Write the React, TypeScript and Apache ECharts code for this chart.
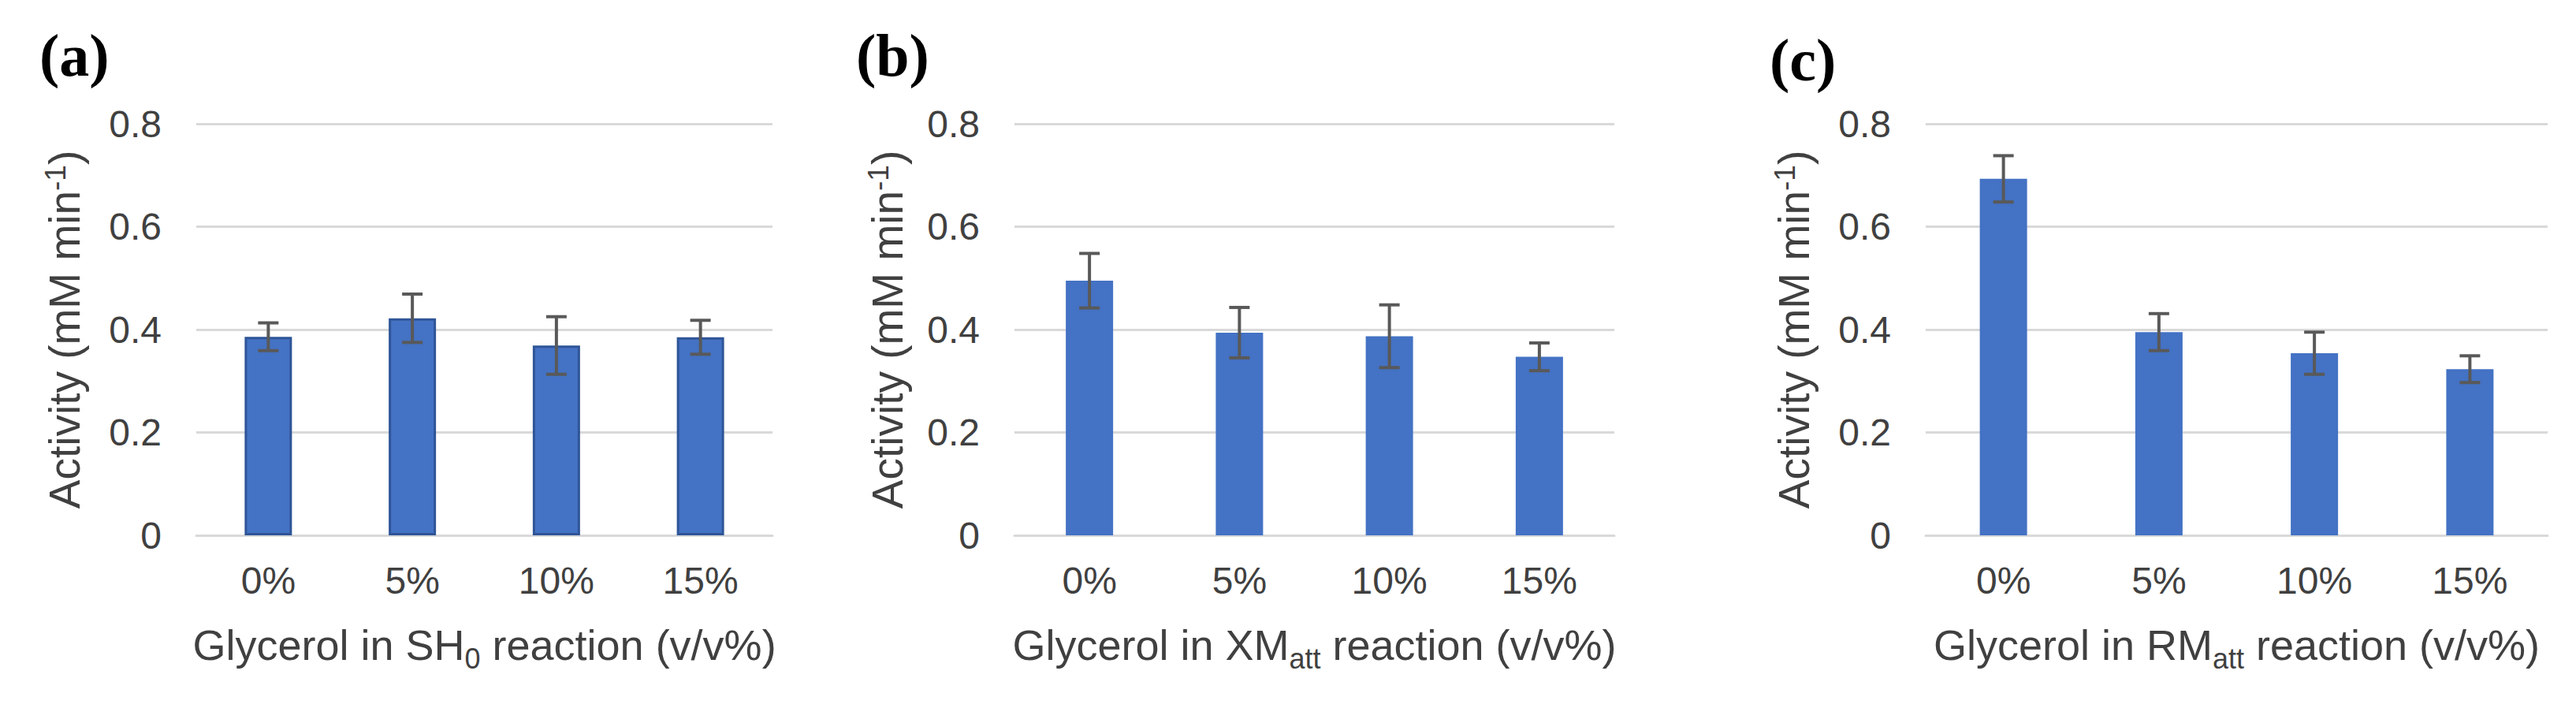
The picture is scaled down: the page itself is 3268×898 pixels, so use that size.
import React, { useEffect, useRef } from "react";
import * as echarts from "echarts";

const categories = ["0%", "5%", "10%", "15%"];
const yTicks = [0, 0.2, 0.4, 0.6, 0.8];

const meansA = [0.386, 0.422, 0.369, 0.385];
const errA = [0.027, 0.047, 0.056, 0.033];
const meansB = [0.495, 0.394, 0.387, 0.347];
const errB = [0.053, 0.049, 0.061, 0.027];
const meansC = [0.693, 0.395, 0.354, 0.323];
const errC = [0.045, 0.036, 0.041, 0.026];

const panelLabels = ["(a)", "(b)", "(c)"];
const xTitles = [
  "Glycerol in SH{sub|0} reaction (v/v%)",
  "Glycerol in XM{sub|att} reaction (v/v%)",
  "Glycerol in RM{sub|att} reaction (v/v%)",
];
const yTitle = "Activity (mM min{sup|-1})";

const FONT = '"Liberation Sans", Arial, sans-serif';
const TEXT = "#404040";
const GRIDC = "#d9d9d9";
const BAR = "#4472c4";

export default function App() {
  const ref = useRef<HTMLDivElement>(null);
  useEffect(() => {
    document.body.style.margin = "0";
    const chart = echarts.init(ref.current!, null, { renderer: "svg" });
    const grids = [
      { left: 249, top: 157, width: 731, height: 522 },
      { left: 1287, top: 157, width: 761, height: 522 },
      { left: 2443, top: 157, width: 789, height: 522 },
    ];
    const yGaps = [138, 132, 138];
    const panels = [
      { means: meansA, err: errA, border: true },
      { means: meansB, err: errB, border: false },
      { means: meansC, err: errC, border: false },
    ];
    const xAxis = grids.map((_, i) => ({
      type: "category",
      gridIndex: i,
      data: categories,
      axisTick: { show: false },
      axisLine: { lineStyle: { color: GRIDC, width: 3 } },
      axisLabel: { fontSize: 48, color: TEXT, fontFamily: FONT, margin: 33 },
      name: xTitles[i],
      nameLocation: "middle",
      nameGap: 104,
      nameTextStyle: {
        fontSize: 54,
        color: TEXT,
        fontFamily: FONT,
        rich: {
          sub: { fontSize: 36, color: TEXT, fontFamily: FONT, padding: [34, 0, 0, 0] },
        },
      },
    }));
    const yAxis = grids.map((_, i) => ({
      type: "value",
      gridIndex: i,
      min: yTicks[0],
      max: yTicks[yTicks.length - 1],
      interval: 0.2,
      axisLine: { show: false },
      axisTick: { show: false },
      splitLine: { lineStyle: { color: GRIDC, width: 3 } },
      axisLabel: {
        fontSize: 48,
        color: TEXT,
        fontFamily: FONT,
        margin: 44,
        formatter: (v: number) => (v === 0 ? "0" : v.toFixed(1)),
      },
      name: yTitle,
      nameLocation: "middle",
      nameGap: yGaps[i],
      nameTextStyle: {
        fontSize: 55,
        color: TEXT,
        fontFamily: FONT,
        rich: {
          sup: { fontSize: 37, color: TEXT, fontFamily: FONT, padding: [0, 0, 22, 0] },
        },
      },
    }));
    const series: any[] = [];
    panels.forEach((p, i) => {
      series.push({
        type: "bar",
        xAxisIndex: i,
        yAxisIndex: i,
        data: p.means,
        barWidth: 60,
        itemStyle: p.border
          ? { color: BAR, borderColor: "#2f5597", borderWidth: 3 }
          : { color: BAR },
      });
      series.push({
        type: "custom",
        xAxisIndex: i,
        yAxisIndex: i,
        z: 5,
        data: p.means.map((m, k) => [k, m - p.err[k], m + p.err[k]]),
        renderItem: (params: any, api: any) => {
          const lo = api.coord([api.value(0), api.value(1)]);
          const hi = api.coord([api.value(0), api.value(2)]);
          const cap = 13;
          const style = { stroke: "#595959", lineWidth: 4 };
          return {
            type: "group",
            children: [
              { type: "line", shape: { x1: lo[0], y1: lo[1], x2: hi[0], y2: hi[1] }, style },
              { type: "line", shape: { x1: hi[0] - cap, y1: hi[1], x2: hi[0] + cap, y2: hi[1] }, style },
              { type: "line", shape: { x1: lo[0] - cap, y1: lo[1], x2: lo[0] + cap, y2: lo[1] }, style },
            ],
          };
        },
      });
    });
    const labelX = [50, 1086, 2245];
    const labelY = [32, 32, 38];
    chart.setOption({
      animation: false,
      backgroundColor: "#ffffff",
      grid: grids,
      xAxis,
      yAxis,
      series,
      graphic: panelLabels.map((t, i) => ({
        type: "text",
        left: labelX[i],
        top: labelY[i],
        style: {
          text: t,
          fontSize: 76,
          fontWeight: "bold",
          fontFamily: '"Liberation Serif", "Times New Roman", serif',
          fill: "#000",
        },
      })),
    });
    return () => chart.dispose();
  }, []);
  return (
    <div
      ref={ref}
      style={{ position: "absolute", left: 0, top: 0, width: 3268, height: 898 }}
    />
  );
}
